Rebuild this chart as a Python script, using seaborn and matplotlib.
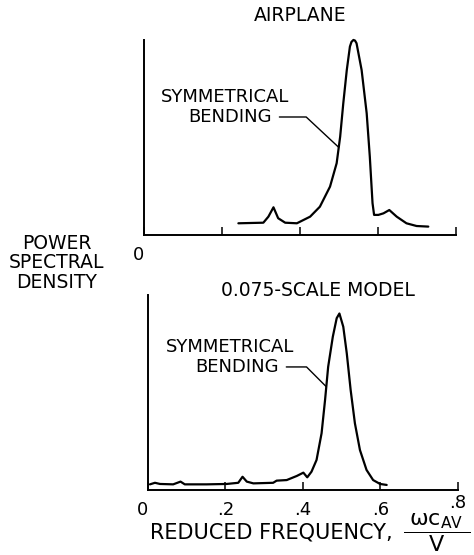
import matplotlib
matplotlib.use("Agg")
import matplotlib.pyplot as plt
import numpy as np
import pandas as pd
import seaborn as sns

# ---------------- data ----------------
airplane_freq = [0.242, 0.306, 0.319, 0.332, 0.344, 0.362, 0.392, 0.426, 0.451,
                 0.477, 0.494, 0.503, 0.511, 0.520, 0.528, 0.532, 0.537, 0.541,
                 0.545, 0.558, 0.571, 0.579, 0.586, 0.590, 0.601, 0.614, 0.629,
                 0.648, 0.673, 0.699, 0.729]
airplane_psd = [0.60, 0.63, 0.94, 1.42, 0.86, 0.63, 0.60, 0.94, 1.45,
                2.48, 3.68, 5.04, 6.75, 8.46, 9.66, 9.90, 10.0, 9.97,
                9.83, 8.46, 6.24, 4.02, 1.63, 1.03, 1.03, 1.11, 1.28,
                0.94, 0.60, 0.46, 0.43]

model_freq = [0.005, 0.018, 0.031, 0.065, 0.084, 0.095, 0.151, 0.203, 0.233,
              0.244, 0.255, 0.272, 0.323, 0.332, 0.358, 0.384, 0.401, 0.411,
              0.422, 0.435, 0.448, 0.457, 0.465, 0.477, 0.487, 0.494, 0.504,
              0.513, 0.523, 0.534, 0.547, 0.564, 0.581, 0.599, 0.616]
model_psd = [0.29, 0.37, 0.31, 0.29, 0.43, 0.29, 0.29, 0.31, 0.37,
             0.68, 0.43, 0.34, 0.37, 0.48, 0.51, 0.72, 0.89, 0.65,
             0.94, 1.54, 2.91, 4.62, 6.32, 7.86, 8.81, 9.05, 8.37,
             7.01, 5.13, 3.42, 2.05, 1.03, 0.51, 0.31, 0.26]

x_ticks = [0.0, 0.2, 0.4, 0.6, 0.8]
bottom_tick_labels = ["0", ".2", ".4", ".6", ".8"]
top_tick_labels = ["0", "", "", "", ""]

top_title = "AIRPLANE"
bottom_title = "0.075-SCALE MODEL"
y_label = "POWER\nSPECTRAL\nDENSITY"
x_label = "REDUCED FREQUENCY,"
x_label_fraction = r"$\dfrac{\;\omega\mathrm{c}_{\mathrm{AV}}\;}{\mathrm{V}}$"
note_line1 = "SYMMETRICAL"
note_line2 = "BENDING"

# ---------------- style ----------------
sns.set_style("white")
plt.rcParams["font.family"] = ["DejaVu Sans"]
plt.rcParams["mathtext.fontset"] = "dejavusans"
plt.rcParams["mathtext.default"] = "regular"
plt.rcParams["text.color"] = "black"
plt.rcParams["axes.labelcolor"] = "black"
plt.rcParams["xtick.color"] = "black"

fig = plt.figure(figsize=(4.74, 5.55), dpi=100)
fig.patch.set_facecolor("white")
ax1 = fig.add_axes([0.3038, 0.5766, 0.6582, 0.3514])
ax2 = fig.add_axes([0.3122, 0.1171, 0.6540, 0.3514])

df_air = pd.DataFrame({"freq": airplane_freq, "psd": airplane_psd})
df_mod = pd.DataFrame({"freq": model_freq, "psd": model_psd})

for ax, df in ((ax1, df_air), (ax2, df_mod)):
    sns.lineplot(data=df, x="freq", y="psd", ax=ax, color="black",
                 linewidth=1.6, estimator=None, sort=False, clip_on=False)


def style_axes(ax, labels):
    ax.set_xlim(0, 0.8)
    ax.set_ylim(0, 10)
    sns.despine(ax=ax)
    for s in ("left", "bottom"):
        ax.spines[s].set_linewidth(1.4)
        ax.spines[s].set_color("black")
    ax.set_yticks([])
    ax.set_xticks(x_ticks)
    ax.set_xticklabels(labels)
    ax.tick_params(axis="x", bottom=True, direction="in", length=6, width=1.1,
                   colors="black", pad=8, labelsize=13)
    ax.set_xlabel("")
    ax.set_ylabel("")
    ax.get_xticklabels()[0].set_horizontalalignment("right")


style_axes(ax1, top_tick_labels)
style_axes(ax2, bottom_tick_labels)
ax2.xaxis.get_major_ticks()[-1].set_pad(3)

ax1.set_title(top_title, fontsize=13.5, pad=14)
ax2.text(0.548, 0.995, bottom_title, transform=ax2.transAxes, ha="center",
         va="baseline", fontsize=13.5)

# annotations
ax1.text(0.208, 7.08, note_line1, ha="center", va="center", fontsize=13)
ax1.annotate(note_line2, xy=(0.499, 4.5), xytext=(0.221, 6.05),
             ha="center", va="center", fontsize=13,
             arrowprops=dict(arrowstyle="-", color="black", lw=1.0,
                             connectionstyle="angle,angleA=0,angleB=-43,rad=0",
                             relpos=(1, 0.5), shrinkA=3, shrinkB=0))

ax2.text(0.212, 7.33, note_line1, ha="center", va="center", fontsize=13)
ax2.annotate(note_line2, xy=(0.460, 5.3), xytext=(0.230, 6.31),
             ha="center", va="center", fontsize=13,
             arrowprops=dict(arrowstyle="-", color="black", lw=1.0,
                             connectionstyle="angle,angleA=0,angleB=-45,rad=0",
                             relpos=(1, 0.5), shrinkA=3, shrinkB=0))

# axis labels
fig.text(57 / 474, 1 - 263 / 555, y_label, ha="center", va="center",
         multialignment="center", fontsize=13.5, linespacing=1.05)

ax2.set_xlabel(x_label, fontsize=15)
ax2.xaxis.set_label_coords(0.399, -0.251)
ax2.xaxis.label.set_verticalalignment("baseline")
ax2.text(0.932, -0.251, x_label_fraction, transform=ax2.transAxes,
         ha="center", va="baseline", fontsize=16)

fig.savefig("out.png", dpi=100, facecolor="white")
